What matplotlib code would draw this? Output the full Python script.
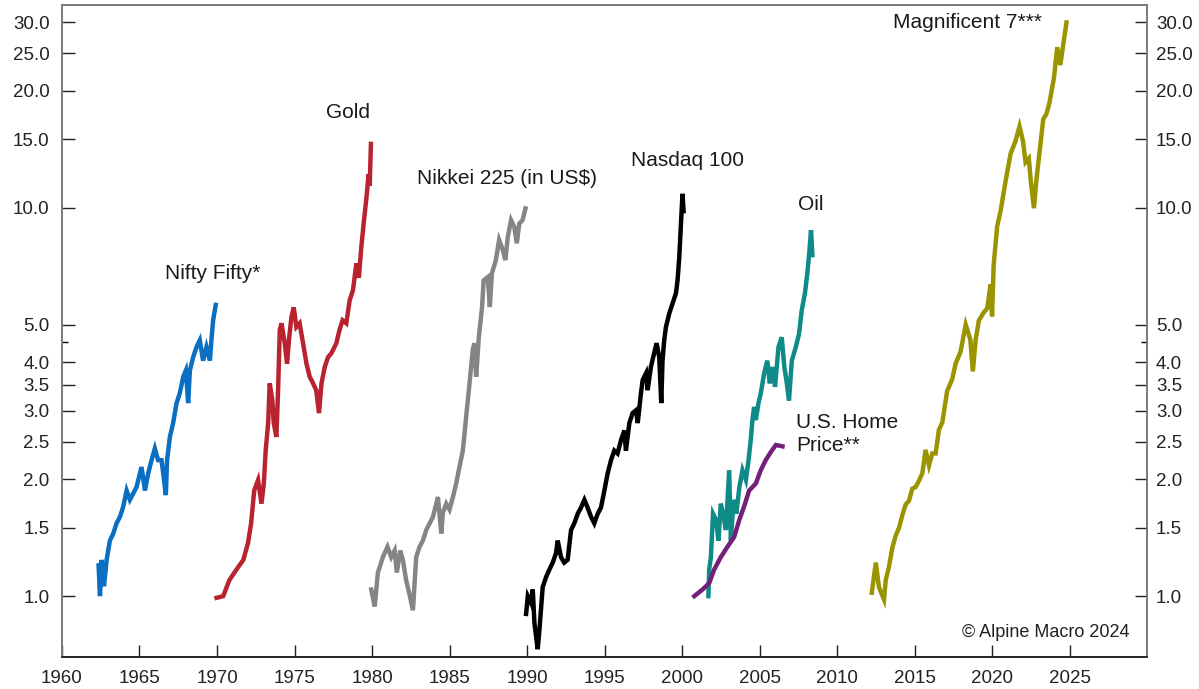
import matplotlib.pyplot as plt
from matplotlib.ticker import FixedLocator, NullFormatter

plt.rcParams['font.family'] = ['Liberation Sans', 'DejaVu Sans']

# values (indexed, start = 1.0)
nifty_years = [1962.36, 1962.45, 1962.56, 1962.71, 1962.88, 1963.09, 1963.31, 1963.52, 1963.74, 1963.95,
               1964.17, 1964.38, 1964.6, 1964.81, 1965.13, 1965.35, 1965.56, 1965.78, 1965.99, 1966.2,
               1966.42, 1966.53, 1966.7, 1966.78, 1966.96, 1967.17, 1967.39, 1967.6, 1967.82, 1967.99,
               1968.14, 1968.25, 1968.46, 1968.68, 1968.89, 1969.1, 1969.32, 1969.54, 1969.64, 1969.75, 1969.92]
nifty_vals = [1.20, 1.0, 1.24, 1.06, 1.24, 1.39, 1.45, 1.54, 1.60, 1.70,
              1.87, 1.77, 1.84, 1.91, 2.15, 1.87, 2.07, 2.24, 2.40, 2.24,
              2.24, 2.07, 1.82, 2.24, 2.57, 2.79, 3.14, 3.33, 3.67, 3.81,
              3.14, 3.81, 4.12, 4.38, 4.56, 4.04, 4.38, 4.04, 4.56, 5.13, 5.62]

gold_years = [1969.97, 1970.4, 1970.8, 1971.25, 1971.7, 1972.0, 1972.2, 1972.4, 1972.65, 1972.87,
              1973.02, 1973.14, 1973.3, 1973.4, 1973.57, 1973.66, 1973.83, 1973.94, 1974.05, 1974.16,
              1974.37, 1974.52, 1974.65, 1974.8, 1974.95, 1975.12, 1975.33, 1975.55, 1975.77, 1975.98,
              1976.2, 1976.4, 1976.58, 1976.74, 1976.95, 1977.16, 1977.38, 1977.7, 1977.9, 1978.1,
              1978.34, 1978.56, 1978.77, 1978.99, 1979.15, 1979.31, 1979.46, 1979.64, 1979.78, 1979.85, 1979.93]
gold_vals = [0.99, 1.0, 1.10, 1.17, 1.24, 1.37, 1.54, 1.87, 1.99, 1.73,
             1.95, 2.37, 2.79, 3.53, 3.19, 2.79, 2.57, 3.39, 4.84, 5.04,
             4.48, 3.97, 4.60, 5.23, 5.54, 4.93, 5.04, 4.48, 3.97, 3.67,
             3.53, 3.39, 2.96, 3.53, 3.89, 4.12, 4.22, 4.48, 4.84, 5.13,
             5.04, 5.78, 6.13, 7.19, 6.60, 7.92, 9.10, 10.6, 12.2, 11.4, 14.6]

nikkei_years = [1979.95, 1980.17, 1980.38, 1980.7, 1981.0, 1981.24, 1981.46, 1981.6, 1981.82, 1981.99,
                1982.2, 1982.42, 1982.64, 1982.85, 1983.07, 1983.28, 1983.5, 1983.72, 1983.93, 1984.15,
                1984.25, 1984.47, 1984.57, 1984.79, 1985.0, 1985.22, 1985.43, 1985.64, 1985.86, 1986.07,
                1986.29, 1986.5, 1986.6, 1986.72, 1986.89, 1987.1, 1987.2, 1987.47, 1987.6, 1987.73,
                1987.99, 1988.2, 1988.43, 1988.6, 1988.76, 1988.97, 1989.18, 1989.34, 1989.5, 1989.71, 1989.9]
nikkei_vals = [1.04, 0.94, 1.15, 1.26, 1.34, 1.26, 1.31, 1.15, 1.31, 1.24,
               1.10, 1.01, 0.92, 1.26, 1.34, 1.39, 1.48, 1.54, 1.60, 1.73,
               1.80, 1.45, 1.64, 1.73, 1.67, 1.80, 1.95, 2.15, 2.37, 2.89,
               3.53, 4.30, 4.48, 3.67, 4.64, 5.55, 6.50, 6.63, 5.55, 6.77,
               7.33, 8.26, 7.80, 7.33, 8.41, 9.29, 8.92, 8.10, 9.10, 9.29, 9.96]

nasdaq_years = [1989.94, 1990.05, 1990.26, 1990.37, 1990.48, 1990.69, 1990.8, 1991.01, 1991.23, 1991.44,
                1991.66, 1991.87, 1991.98, 1992.19, 1992.4, 1992.62, 1992.84, 1993.05, 1993.27, 1993.48,
                1993.7, 1993.91, 1994.13, 1994.34, 1994.56, 1994.77, 1994.99, 1995.2, 1995.42, 1995.63,
                1995.84, 1996.06, 1996.28, 1996.38, 1996.6, 1996.81, 1997.03, 1997.14, 1997.35, 1997.46,
                1997.68, 1997.78, 1997.99, 1998.2, 1998.36, 1998.53, 1998.66, 1998.74, 1998.85, 1998.96,
                1999.18, 1999.39, 1999.61, 1999.71, 1999.82, 1999.93, 2000.03, 2000.1]
nasdaq_vals = [0.90, 1.0, 0.96, 1.04, 0.85, 0.73, 0.82, 1.055, 1.12, 1.17,
               1.22, 1.29, 1.39, 1.26, 1.22, 1.24, 1.48, 1.54, 1.63, 1.69,
               1.77, 1.69, 1.60, 1.54, 1.63, 1.69, 1.87, 2.07, 2.24, 2.37,
               2.33, 2.52, 2.67, 2.37, 2.79, 2.96, 3.01, 2.79, 3.33, 3.60,
               3.75, 3.39, 3.89, 4.22, 4.48, 4.12, 3.14, 4.04, 4.56, 4.93,
               5.35, 5.67, 6.03, 6.50, 7.45, 9.10, 10.86, 9.80]

oil_years = [2001.7, 2001.75, 2001.86, 2002.0, 2002.2, 2002.35, 2002.5, 2002.65, 2002.83, 2003.04,
             2003.15, 2003.32, 2003.5, 2003.7, 2003.9, 2004.12, 2004.29, 2004.43, 2004.54, 2004.65,
             2004.76, 2004.93, 2005.08, 2005.3, 2005.5, 2005.66, 2005.83, 2006.0, 2006.22, 2006.43,
             2006.6, 2006.73, 2006.9, 2007.08, 2007.34, 2007.55, 2007.72, 2007.93, 2008.08, 2008.2,
             2008.32, 2008.41]
oil_vals = [1.0, 1.17, 1.26, 1.63, 1.57, 1.39, 1.73, 1.63, 1.48, 2.11,
            1.39, 1.77, 1.63, 1.91, 2.11, 1.99, 2.24, 2.52, 2.84, 3.07,
            2.84, 3.14, 3.33, 3.75, 4.04, 3.53, 3.89, 3.46, 4.38, 4.64,
            3.89, 3.60, 3.19, 4.04, 4.38, 4.74, 5.44, 6.03, 6.77, 7.60,
            8.75, 7.55]

home_years = [2000.79, 2001.32, 2001.75, 2002.07, 2002.5, 2002.93, 2003.36, 2003.69, 2004.0, 2004.33,
              2004.76, 2005.08, 2005.4, 2005.73, 2006.05, 2006.48]
home_vals = [1.0, 1.04, 1.08, 1.17, 1.26, 1.34, 1.42, 1.57, 1.70, 1.87,
             1.95, 2.11, 2.24, 2.35, 2.45, 2.43]

mag7_years = [2012.24, 2012.5, 2012.7, 2013.03, 2013.14, 2013.35, 2013.56, 2013.78, 2014.0, 2014.2,
              2014.42, 2014.64, 2014.85, 2015.07, 2015.28, 2015.5, 2015.71, 2015.93, 2016.14, 2016.36,
              2016.57, 2016.79, 2017.1, 2017.43, 2017.65, 2017.97, 2018.3, 2018.6, 2018.76, 2018.94,
              2019.15, 2019.47, 2019.69, 2019.9, 2020.0, 2020.1, 2020.33, 2020.55, 2020.87, 2021.2,
              2021.5, 2021.77, 2022.0, 2022.16, 2022.37, 2022.5, 2022.7, 2022.87, 2023.08, 2023.3,
              2023.5, 2023.7, 2024.0, 2024.2, 2024.4, 2024.8]
mag7_vals = [1.02, 1.22, 1.055, 0.98, 1.10, 1.19, 1.33, 1.43, 1.50, 1.61,
             1.72, 1.76, 1.89, 1.91, 1.98, 2.07, 2.38, 2.17, 2.33, 2.33,
             2.68, 2.80, 3.37, 3.62, 3.97, 4.26, 5.00, 4.57, 3.79, 4.57,
             5.13, 5.38, 5.51, 6.34, 5.25, 7.10, 8.96, 9.80, 11.7, 13.8,
             14.8, 16.2, 14.8, 13.1, 13.4, 11.7, 9.97, 11.9, 14.1, 16.9,
             17.4, 18.6, 21.7, 25.9, 23.3, 30.0]

ytick_vals = [1.0, 1.5, 2.0, 2.5, 3.0, 3.5, 4.0, 5.0, 10.0, 15.0, 20.0, 25.0, 30.0]
xtick_vals = list(range(1960, 2030, 5))

series = [
    (nifty_years, nifty_vals, '#0A6FC2'),
    (gold_years, gold_vals, '#B8232F'),
    (nikkei_years, nikkei_vals, '#858585'),
    (nasdaq_years, nasdaq_vals, '#000000'),
    (oil_years, oil_vals, '#0E8A89'),
    (home_years, home_vals, '#74207A'),
    (mag7_years, mag7_vals, '#999400'),
]

YLIM = (0.697, 33.2)

fig = plt.figure(figsize=(11.99, 6.89), dpi=100)
ax = fig.add_axes([0.0517, 0.0464, 0.905, 0.9459])

for xs, ys, c in series:
    ax.plot(xs, ys, color=c, lw=3.2, solid_joinstyle='miter')

ax.set_xlim(1960, 2030)
ax.set_xticks(xtick_vals)
ax.tick_params(axis='x', direction='in', length=9, width=1, labelsize=13.5, pad=9, colors='#222222')

# same log ticks on both sides; right side on a twin so its pad can differ
ax2 = ax.twinx()
for a, side in [(ax, 'left'), (ax2, 'right')]:
    a.set_yscale('log')
    a.set_ylim(*YLIM)
    a.yaxis.set_major_locator(FixedLocator(ytick_vals))
    a.set_yticklabels([f'{v:.1f}' for v in ytick_vals])
    a.yaxis.set_minor_locator(FixedLocator([4.5]))
    a.yaxis.set_minor_formatter(NullFormatter())
    a.tick_params(axis='y', which='major', direction='in', length=9, width=1, labelsize=13.5,
                  pad=9 if side == 'left' else 6.5, colors='#222222')
    a.tick_params(axis='y', which='minor', direction='in', length=4, width=1)

for a in (ax, ax2):
    for side in ['top', 'right', 'left']:
        a.spines[side].set_color('#7a7a7a')
    a.spines['bottom'].set_color('#222222')
    for s in a.spines.values():
        s.set_linewidth(1.2)

lab = dict(fontsize=15, color='#1a1a1a')
ax.text(1969.73, 6.78, 'Nifty Fifty*', ha='center', va='center', **lab)
ax.text(1978.43, 17.6, 'Gold', ha='center', va='center', **lab)
ax.text(1988.74, 11.9, 'Nikkei 225 (in US$)', ha='center', va='center', **lab)
ax.text(2000.33, 13.2, 'Nasdaq 100', ha='center', va='center', **lab)
ax.text(2008.32, 10.2, 'Oil', ha='center', va='center', **lab)
ax.text(2007.36, 2.61, 'U.S. Home\nPrice**', ha='left', va='center', linespacing=1.25, **lab)
ax.text(2018.44, 30.0, 'Magnificent 7***', ha='center', va='center', **lab)
ax.text(0.984, 0.037, '© Alpine Macro 2024', transform=ax.transAxes, ha='right', va='center',
        fontsize=13, color='#222222')

fig.savefig('out.png', dpi=100)
